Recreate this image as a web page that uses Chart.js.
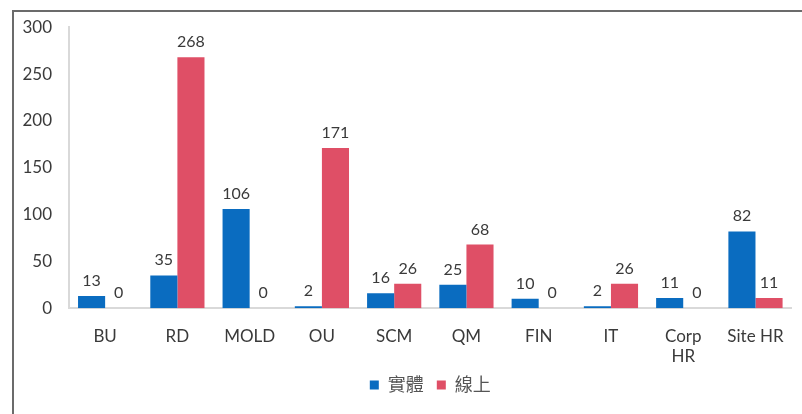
<!DOCTYPE html>
<html>
<head>
<meta charset="utf-8">
<script src="https://cdn.jsdelivr.net/npm/chart.js@4.4.1/dist/chart.umd.min.js"></script>
<style>
  html, body { margin: 0; padding: 0; background: #fff; }
  body { width: 802px; height: 414px; position: relative; overflow: hidden; }
  .frame {
    position: absolute; left: 12px; top: 10px; width: 820px; height: 440px;
    border-left: 2px solid #6b6b6b; border-top: 2px solid #6b6b6b;
  }
  .chart-box { position: absolute; left: 0; top: 0; width: 802px; height: 414px; }
</style>
</head>
<body>
<div class="frame"></div>
<div class="chart-box"><canvas id="deptChart"></canvas></div>
<script>
window.addEventListener('DOMContentLoaded', (event) => {
  // Data
  const departments = ["BU", "RD", "MOLD", "OU", "SCM", "QM", "FIN", "IT", ["Corp", "HR"], "Site HR"];
  const onsite = [13, 35, 106, 2, 16, 25, 10, 2, 11, 82];
  const online = [0, 268, 0, 171, 26, 68, 0, 26, 0, 11];
  const yTicks = [0, 50, 100, 150, 200, 250, 300];

  const textColor = "#3a3a3a";
  const fontFamily = "Lato, 'Noto Sans CJK TC', sans-serif";

  // Value labels above each bar
  const barValues = {
    id: "barValues",
    afterDatasetsDraw(chart) {
      const ctx = chart.ctx;
      ctx.save();
      ctx.font = "16px " + fontFamily;
      ctx.fillStyle = textColor;
      ctx.textAlign = "center";
      ctx.textBaseline = "alphabetic";
      chart.data.datasets.forEach((ds, i) => {
        chart.getDatasetMeta(i).data.forEach((bar, j) => {
          ctx.fillText(String(ds.data[j]), bar.x, bar.y - 10);
        });
      });
      ctx.restore();
    }
  };

  const config = {
    type: "bar",
    data: {
      labels: departments,
      datasets: [{
        label: "實體",
        data: onsite,
        backgroundColor: "#0a6cc0"
      }, {
        label: "線上",
        data: online,
        backgroundColor: "#df4f66"
      }]
    },
    options: {
      responsive: true,
      maintainAspectRatio: false,
      animation: false,
      categoryPercentage: 0.75,
      barPercentage: 1.0,
      layout: { padding: { top: 22, right: 8, bottom: 10, left: 0 } },
      scales: {
        x: {
          grid: { display: false, drawTicks: false },
          border: { color: "#d9d9d9", width: 2 },
          afterFit(scale) {
            // let the labels hang a bit lower than the axis box
            scale.height = scale.height - 22;
          },
          ticks: {
            color: textColor,
            font: { family: fontFamily, size: 17 },
            padding: 18,
            maxRotation: 0,
            autoSkip: false
          }
        },
        y: {
          min: 0,
          max: 300,
          afterBuildTicks(scale) {
            scale.ticks = yTicks.map(v => ({ value: v }));
          },
          afterFit(scale) {
            scale.width = 69;
          },
          grid: { display: false, drawTicks: false },
          border: { color: "#d9d9d9", width: 2 },
          ticks: {
            color: textColor,
            font: { family: fontFamily, size: 17 },
            padding: 17
          }
        }
      },
      plugins: {
        legend: {
          position: "bottom",
          fullSize: false,
          labels: {
            color: "#555",
            font: { family: fontFamily, size: 18 },
            boxWidth: 9,
            boxHeight: 9,
            padding: 13
          }
        },
        tooltip: { enabled: false }
      }
    },
    plugins: [barValues]
  };

  const deptChart = new Chart(document.getElementById("deptChart"), config);
});
</script>
</body>
</html>
